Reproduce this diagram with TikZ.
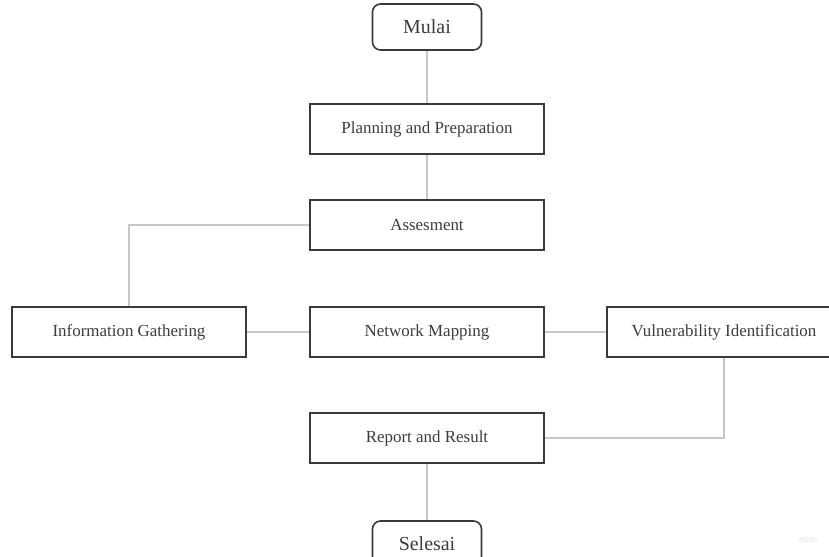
\documentclass[tikz,border=0pt]{standalone}
\usepackage{fontspec}
\setmainfont{Liberation Serif}
\definecolor{boxline}{HTML}{3A3A3A}
\definecolor{linkgray}{HTML}{C8C8C8}
\definecolor{textgray}{HTML}{3C3C3C}
\tikzset{
    fc box/.style={draw=boxline, line width=1.6bp, fill=white,
                   minimum width=234bp, minimum height=50bp,
                   text=textgray, font=\fontsize{17}{20}\selectfont},
    fc term/.style={fc box, rounded corners=8bp,
                    minimum width=109bp, minimum height=46bp,
                    font=\fontsize{20}{24}\selectfont},
    fc link/.style={draw=linkgray, line width=1.1bp},
    fc mark/.style={font=\fontsize{10}{11}\itshape, text=black!12},
}

\begin{document}
\begin{tikzpicture}[x=1bp, y=1bp]
    \useasboundingbox (0,0) rectangle (829,-557);
    \begin{scope}
    \clip (0,0) rectangle (829,-557);
    % Start and end
    \node[fc term] (mulai) at (427, -27) {Mulai};
    \node[fc term] (selesai) at (427, -544) {Selesai};
    % Main column
    \node[fc box] (plan) at (427, -129) {Planning and Preparation};
    \node[fc box] (assess) at (427, -225) {Assesment};
    \node[fc box] (netmap) at (427, -332) {Network Mapping};
    \node[fc box] (report) at (427, -438) {Report and Result};
    % Side boxes
    \node[fc box] (info) at (129, -332) {Information Gathering};
    \node[fc box] (vuln) at (724, -332) {Vulnerability Identification};
    % Connectors
    \draw[fc link] (mulai) -- (plan);
    \draw[fc link] (plan) -- (assess);
    \draw[fc link] (assess.west) -| (info.north);
    \draw[fc link] (info) -- (netmap);
    \draw[fc link] (netmap) -- (vuln);
    \draw[fc link] (vuln.south) |- (report.east);
    \draw[fc link] (report) -- (selesai);
    \end{scope}
    % Watermark
    \node[fc mark] (miro) at (808, -539) {miro};
\end{tikzpicture}
\end{document}
